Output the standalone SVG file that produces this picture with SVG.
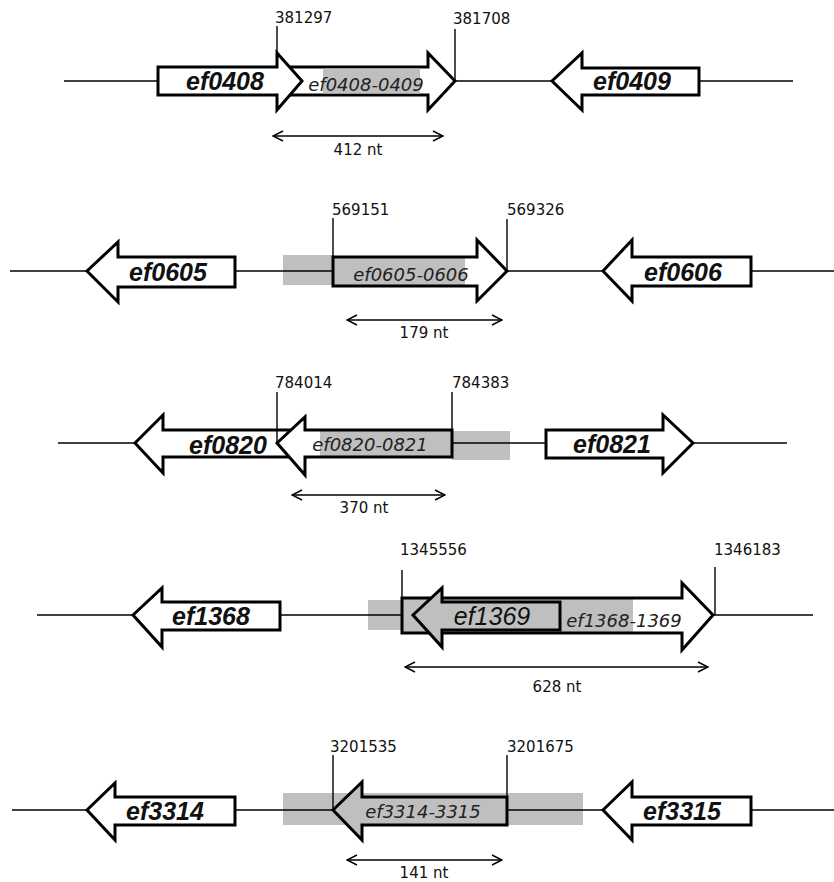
<svg xmlns="http://www.w3.org/2000/svg" width="834" height="882" viewBox="0 0 834 882">
<style>
.ln{stroke:#000;stroke-width:1.6;fill:none}
.tk{stroke:#000;stroke-width:1.4;fill:none}
.gene{fill:#fff;stroke:#000;stroke-width:3;stroke-linejoin:miter}
.ggene{fill:#bfbfbf;stroke:#000;stroke-width:3;stroke-linejoin:miter}
.out{fill:none;stroke:#000;stroke-width:3;stroke-linejoin:miter}
.gray{fill:#bfbfbf;stroke:none}
.wh{fill:#fff;stroke:none}
.dim{stroke:#000;stroke-width:1.4;fill:none;marker-start:url(#v);marker-end:url(#v)}
.gn{font-family:"Liberation Sans",Arial,sans-serif;font-style:italic;font-weight:bold;font-size:25px;fill:#111;text-anchor:middle}
.sn{font-family:"DejaVu Sans",Verdana,sans-serif;font-style:italic;font-size:18px;fill:#222;text-anchor:middle}
.num{font-family:"DejaVu Sans",Verdana,sans-serif;font-size:15px;fill:#111}
.nt{font-family:"DejaVu Sans",Verdana,sans-serif;font-size:15px;fill:#111;text-anchor:middle}
</style>
<defs>
<marker id="v" viewBox="0 0 12 12" refX="11" refY="6" markerWidth="12" markerHeight="12" markerUnits="userSpaceOnUse" orient="auto-start-reverse">
<path d="M1,1 L11,6 L1,11" fill="none" stroke="#000" stroke-width="1.4"/>
</marker>
</defs>

<g id="connectors">
<!-- row 1 -->
<line class="ln" x1="64" y1="81" x2="158" y2="81"/>
<line class="ln" x1="455" y1="81" x2="552" y2="81"/>
<line class="ln" x1="699" y1="81" x2="793" y2="81"/>
<!-- row 2 -->
<rect class="gray" x="283" y="255" width="50" height="30"/>
<line class="ln" x1="10" y1="271" x2="87" y2="271"/>
<line class="ln" x1="235" y1="271" x2="333" y2="271"/>
<line class="ln" x1="507" y1="271" x2="603" y2="271"/>
<line class="ln" x1="751" y1="271" x2="834" y2="271"/>
<!-- row 3 -->
<rect class="gray" x="452" y="431" width="58" height="29"/>
<line class="ln" x1="58" y1="443" x2="135" y2="443"/>
<line class="ln" x1="452" y1="443" x2="546" y2="443"/>
<line class="ln" x1="693" y1="443" x2="787" y2="443"/>
<!-- row 4 -->
<rect class="gray" x="368" y="600" width="34" height="30"/>
<line class="ln" x1="37" y1="615" x2="133" y2="615"/>
<line class="ln" x1="280" y1="615" x2="402" y2="615"/>
<line class="ln" x1="713" y1="615" x2="813" y2="615"/>
<!-- row 5 -->
<rect class="gray" x="283" y="793" width="300" height="32"/>
<line class="ln" x1="12" y1="810" x2="87" y2="810"/>
<line class="ln" x1="235" y1="810" x2="333" y2="810"/>
<line class="ln" x1="507" y1="810" x2="603" y2="810"/>
<line class="ln" x1="751" y1="810" x2="834" y2="810"/>
</g>

<!-- Row 1 -->
<g id="ef0408-0409">
<path class="gene" d="M277,67 L428,67 L428,53 L455,81 L428,110 L428,95 L277,95 Z"/>
<rect class="gray" x="323" y="68.5" width="97" height="25"/>
<text class="sn" x="366" y="91">ef0408-0409</text>
</g>
<g id="ef0408">
<path class="gene" d="M158,67 L277,67 L277,53 L302,81 L277,110 L277,95 L158,95 Z"/>
<text class="gn" x="225" y="90">ef0408</text>
</g>
<g id="ef0409">
<path class="gene" d="M699,68 L582,68 L582,53 L552,81 L582,110 L582,95 L699,95 Z"/>
<text class="gn" x="632" y="90">ef0409</text>
</g>
<g id="pos-381297">
<line class="tk" x1="277" y1="26" x2="277" y2="53"/>
<text class="num" x="275" y="23">381297</text>
</g>
<g id="pos-381708">
<line class="tk" x1="455" y1="29" x2="455" y2="81"/>
<text class="num" x="453" y="24">381708</text>
</g>
<g id="len-412">
<line class="dim" x1="273" y1="136" x2="443" y2="136"/>
<text class="nt" x="358" y="155">412 nt</text>
</g>

<!-- Row 2 -->
<g id="ef0605">
<path class="gene" d="M235,257 L118,257 L118,242 L87,271 L118,302 L118,287 L235,287 Z"/>
<text class="gn" x="168" y="281">ef0605</text>
</g>
<g id="ef0605-0606">
<path class="wh" d="M333,257 L477,257 L477,240 L507,271 L477,301 L477,286 L333,286 Z"/>
<rect class="gray" x="333" y="257" width="132" height="29"/>
<path class="out" d="M333,257 L477,257 L477,240 L507,271 L477,301 L477,286 L333,286 Z"/>
<text class="sn" x="411" y="281">ef0605-0606</text>
</g>
<g id="ef0606">
<path class="gene" d="M751,257 L632,257 L632,240 L603,271 L632,301 L632,286 L751,286 Z"/>
<text class="gn" x="683" y="281">ef0606</text>
</g>
<g id="pos-569151">
<line class="tk" x1="333" y1="218" x2="333" y2="271"/>
<text class="num" x="332" y="215">569151</text>
</g>
<g id="pos-569326">
<line class="tk" x1="507" y1="219" x2="507" y2="271"/>
<text class="num" x="507" y="215">569326</text>
</g>
<g id="len-179">
<line class="dim" x1="347" y1="320" x2="502" y2="320"/>
<text class="nt" x="424" y="338">179 nt</text>
</g>

<!-- Row 3 -->
<g id="ef0820">
<path class="gene" d="M305,430 L163,430 L163,415 L135,443 L163,473 L163,457 L305,457 Z"/>
<text class="gn" x="228" y="454">ef0820</text>
</g>
<g id="ef0820-0821">
<path class="wh" d="M452,430 L305,430 L305,417 L277,443 L305,475 L305,457 L452,457 Z"/>
<rect class="gray" x="320" y="431" width="132" height="26"/>
<path class="out" d="M452,430 L305,430 L305,417 L277,443 L305,475 L305,457 L452,457 Z"/>
<text class="sn" x="370" y="451">ef0820-0821</text>
</g>
<g id="ef0821">
<path class="gene" d="M546,430 L663,430 L663,415 L693,443 L663,473 L663,458 L546,458 Z"/>
<text class="gn" x="612" y="453">ef0821</text>
</g>
<g id="pos-784014">
<line class="tk" x1="277" y1="392" x2="277" y2="443"/>
<text class="num" x="275" y="388">784014</text>
</g>
<g id="pos-784383">
<line class="tk" x1="452" y1="392" x2="452" y2="443"/>
<text class="num" x="452" y="388">784383</text>
</g>
<g id="len-370">
<line class="dim" x1="292" y1="495" x2="445" y2="495"/>
<text class="nt" x="364" y="513">370 nt</text>
</g>

<!-- Row 4 -->
<g id="ef1368">
<path class="gene" d="M280,602 L162,602 L162,588 L133,615 L162,647 L162,630 L280,630 Z"/>
<text class="gn" x="211" y="625">ef1368</text>
</g>
<g id="ef1368-1369">
<path class="wh" d="M402,598 L682,598 L682,583 L713,615 L682,650 L682,633 L402,633 Z"/>
<rect class="gray" x="402" y="598" width="231" height="35"/>
<path class="out" d="M402,598 L682,598 L682,583 L713,615 L682,650 L682,633 L402,633 Z"/>
<text class="sn" x="624" y="627">ef1368-1369</text>
</g>
<g id="ef1369">
<path class="ggene" d="M560,602 L442,602 L442,588 L413,615 L442,647 L442,630 L560,630 Z"/>
<text class="gn" x="492" y="625" style="font-weight:normal">ef1369</text>
</g>
<g id="pos-1345556">
<line class="tk" x1="402" y1="570" x2="402" y2="615"/>
<text class="num" x="400" y="555">1345556</text>
</g>
<g id="pos-1346183">
<line class="tk" x1="715" y1="567" x2="715" y2="615"/>
<text class="num" x="714" y="555">1346183</text>
</g>
<g id="len-628">
<line class="dim" x1="405" y1="667" x2="708" y2="667"/>
<text class="nt" x="557" y="692">628 nt</text>
</g>

<!-- Row 5 -->
<g id="ef3314">
<path class="gene" d="M235,797 L115,797 L115,783 L87,810 L115,840 L115,825 L235,825 Z"/>
<text class="gn" x="165" y="820">ef3314</text>
</g>
<g id="ef3314-3315">
<path class="ggene" d="M507,797 L362,797 L362,782 L333,810 L362,840 L362,825 L507,825 Z"/>
<text class="sn" x="423" y="818">ef3314-3315</text>
</g>
<g id="ef3315">
<path class="gene" d="M751,797 L632,797 L632,782 L603,810 L632,840 L632,825 L751,825 Z"/>
<text class="gn" x="682" y="820">ef3315</text>
</g>
<g id="pos-3201535">
<line class="tk" x1="333" y1="755" x2="333" y2="810"/>
<text class="num" x="330" y="752">3201535</text>
</g>
<g id="pos-3201675">
<line class="tk" x1="507" y1="755" x2="507" y2="810"/>
<text class="num" x="507" y="752">3201675</text>
</g>
<g id="len-141">
<line class="dim" x1="347" y1="860" x2="502" y2="860"/>
<text class="nt" x="424" y="878">141 nt</text>
</g>
</svg>
